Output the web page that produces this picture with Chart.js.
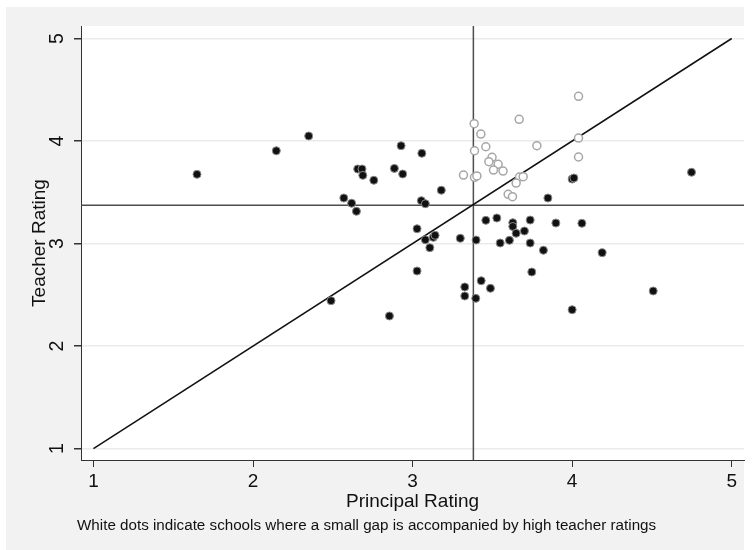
<!DOCTYPE html>
<html>
<head>
<meta charset="utf-8">
<script src="https://cdn.jsdelivr.net/npm/chart.js@4.4.1/dist/chart.umd.min.js"></script>
<style>
  html, body { margin: 0; padding: 0; background: #fff; }
</style>
</head>
<body>
<canvas id="chart" width="752" height="550"></canvas>
<script>
// schools with filled (black) markers
const blackX = [1.649, 2.146, 2.349, 2.656, 2.683, 2.688, 2.757, 2.569, 2.618, 2.648,
  2.886, 2.938, 2.928, 3.058, 3.180, 3.055, 3.080, 3.028, 3.080, 3.130,
  3.141, 3.108, 3.299, 3.398, 3.028, 3.459, 3.528, 3.628, 3.628, 3.737,
  3.898, 4.061, 3.701, 3.649, 3.607, 3.549, 3.737, 3.820, 4.188, 3.747,
  3.430, 3.327, 3.327, 3.488, 3.396, 4.000, 4.508, 2.855, 2.489, 4.000,
  4.011, 4.748, 3.848];
const blackY = [3.675, 3.905, 4.049, 3.727, 3.727, 3.665, 3.617, 3.444, 3.393, 3.314,
  3.733, 3.678, 3.954, 3.880, 3.520, 3.418, 3.388, 3.144, 3.037, 3.060,
  3.080, 2.959, 3.051, 3.034, 2.732, 3.226, 3.249, 3.203, 3.166, 3.229,
  3.200, 3.197, 3.122, 3.100, 3.031, 3.005, 3.005, 2.934, 2.910, 2.722,
  2.637, 2.576, 2.488, 2.563, 2.465, 2.354, 2.537, 2.293, 2.442, 3.629,
  3.639, 3.695, 3.444];

// schools with hollow (white) markers
const whiteX = [4.040, 3.668, 3.386, 3.428, 3.459, 3.779, 4.040, 3.388, 4.040, 3.498,
  3.478, 3.536, 3.507, 3.567, 3.319, 3.388, 3.403, 3.670, 3.693, 3.649,
  3.599, 3.626];
const whiteY = [4.436, 4.212, 4.169, 4.068, 3.944, 3.954, 4.029, 3.905, 3.844, 3.841,
  3.798, 3.773, 3.717, 3.707, 3.668, 3.646, 3.659, 3.649, 3.652, 3.590,
  3.480, 3.457];

const tickValues = [1, 2, 3, 4, 5];
const meanPrincipal = 3.381;
const meanTeacher = 3.373;
const xMin = 0.922, xMax = 5.077;
const yMin = 0.888, yMax = 5.122;

const FONT = '"Liberation Sans", Arial, sans-serif';

const toPoints = (xs, ys) => xs.map((x, i) => ({ x: x, y: ys[i] }));

const frame = {
  id: 'frame',
  beforeDraw(chart) {
    const { ctx, chartArea: a } = chart;
    ctx.save();
    ctx.fillStyle = '#fff';
    ctx.fillRect(0, 0, chart.width, chart.height);
    ctx.fillStyle = '#F2F2F2';
    ctx.fillRect(6, 7, 738, chart.height - 7);
    ctx.fillStyle = '#fff';
    ctx.fillRect(a.left, a.top, a.right - a.left, a.bottom - a.top);
    ctx.restore();
  },
  afterDraw(chart) {
    const { ctx, chartArea: a } = chart;
    const yScale = chart.scales.y;
    ctx.save();
    ctx.fillStyle = '#111';
    // rotated y tick labels
    ctx.font = '19.5px ' + FONT;
    ctx.textAlign = 'center';
    ctx.textBaseline = 'alphabetic';
    yScale.ticks.forEach(t => {
      ctx.save();
      ctx.translate(62.5, yScale.getPixelForValue(t.value));
      ctx.rotate(-Math.PI / 2);
      ctx.fillText(String(t.value), 0, 0);
      ctx.restore();
    });
    // y title
    ctx.font = '19px ' + FONT;
    ctx.save();
    ctx.translate(45, (a.top + a.bottom) / 2);
    ctx.rotate(-Math.PI / 2);
    ctx.fillText('Teacher Rating', 0, 0);
    ctx.restore();
    // x title
    ctx.fillText('Principal Rating', (a.left + a.right) / 2, 507);
    // note
    ctx.font = '15.2px ' + FONT;
    ctx.textAlign = 'left';
    ctx.fillText('White dots indicate schools where a small gap is accompanied by high teacher ratings', 77, 530);
    ctx.restore();
  }
};

new Chart(document.getElementById('chart'), {
  type: 'scatter',
  data: {
    datasets: [
      {
        data: toPoints(whiteX, whiteY),
        pointRadius: 4,
        pointBackgroundColor: '#fff',
        pointBorderColor: '#A6A6A6',
        pointBorderWidth: 1.5,
        order: 1
      },
      {
        data: toPoints(blackX, blackY),
        pointRadius: 4,
        pointBackgroundColor: '#111',
        pointBorderColor: '#8a8a8a',
        pointBorderWidth: 1,
        order: 2
      },
      {
        type: 'line',
        data: [{ x: 1, y: 1 }, { x: 5, y: 5 }],
        borderColor: '#111',
        borderWidth: 1.5,
        pointRadius: 0,
        order: 3
      },
      {
        type: 'line',
        data: [{ x: xMin, y: meanTeacher }, { x: xMax, y: meanTeacher }],
        borderColor: '#4d4d4d',
        borderWidth: 1.5,
        pointRadius: 0,
        order: 4
      },
      {
        type: 'line',
        data: [{ x: meanPrincipal, y: yMin }, { x: meanPrincipal, y: yMax }],
        borderColor: '#4d4d4d',
        borderWidth: 1.5,
        pointRadius: 0,
        order: 5
      }
    ]
  },
  options: {
    responsive: false,
    animation: false,
    layout: { padding: { top: 26, right: 8, left: 0, bottom: 0 } },
    plugins: { legend: { display: false }, tooltip: { enabled: false } },
    scales: {
      x: {
        type: 'linear',
        min: xMin,
        max: xMax,
        afterBuildTicks: s => { s.ticks = tickValues.map(v => ({ value: v })); },
        afterFit: s => { s.height = 90; },
        grid: { drawOnChartArea: false, tickLength: 7, tickColor: '#333' },
        border: { color: '#333', width: 1 },
        ticks: { font: { family: FONT, size: 19 }, color: '#111', padding: 3, maxRotation: 0 }
      },
      y: {
        type: 'linear',
        min: yMin,
        max: yMax,
        afterBuildTicks: s => { s.ticks = tickValues.map(v => ({ value: v })); },
        afterFit: s => { s.width = 81; },
        grid: { color: '#EBEBEB', lineWidth: 1.5, tickLength: 7, tickColor: '#333' },
        border: { color: '#333', width: 1 },
        ticks: { display: false }
      }
    }
  },
  plugins: [frame]
});
</script>
</body>
</html>
